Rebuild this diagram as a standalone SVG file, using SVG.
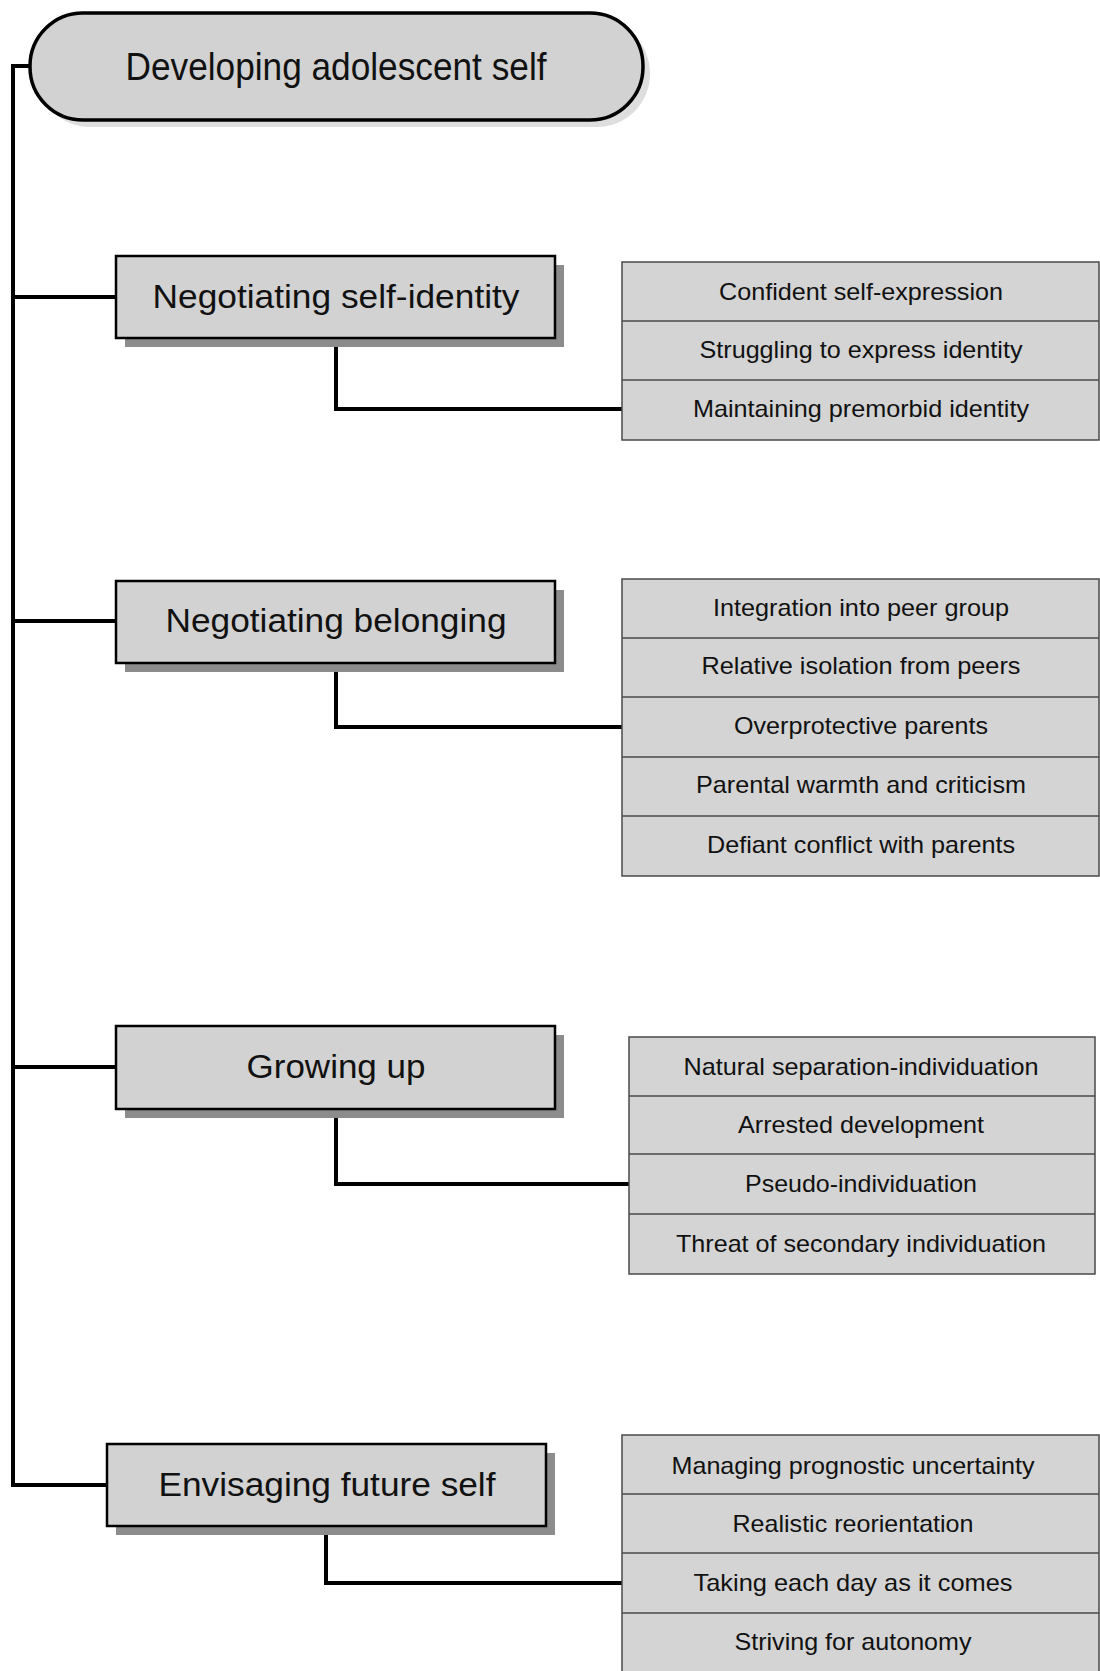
<svg xmlns="http://www.w3.org/2000/svg" width="1100" height="1671" viewBox="0 0 1100 1671">
<style>
.bg{fill:#ffffff}
.conn{fill:none;stroke:#000;stroke-width:4;stroke-linejoin:miter;stroke-linecap:square}
.shadow{fill:#8c8c8c}
.pshadow{fill:#dedede}
.box{fill:#d2d2d2;stroke:#000;stroke-width:2.5}
.pill{fill:#d2d2d2;stroke:#000;stroke-width:3.5}
.list{fill:#d4d4d4;stroke:#4a4a4a;stroke-width:1.5}
.div{stroke:#4a4a4a;stroke-width:1.5}
.t1{font-family:"Liberation Sans",Arial,sans-serif;font-size:34px;fill:#111;text-anchor:middle;dominant-baseline:central}
.t0{font-family:"Liberation Sans",Arial,sans-serif;font-size:39px;fill:#111;text-anchor:middle;dominant-baseline:central}
.t2{font-family:"Liberation Sans",Arial,sans-serif;font-size:24px;fill:#111;text-anchor:middle;dominant-baseline:central}
</style>
<rect class="bg" x="0" y="0" width="1100" height="1671"/>

<g id="connectors">
<path class="conn" d="M30,66 H13 V1485 H107"/>
<path class="conn" d="M13,297 H116"/>
<path class="conn" d="M13,621 H116"/>
<path class="conn" d="M13,1067 H116"/>
<path class="conn" d="M336,338 V409 H622"/>
<path class="conn" d="M336,663 V727 H622"/>
<path class="conn" d="M336,1109 V1184 H629"/>
<path class="conn" d="M326,1526 V1583 H622"/>
</g>

<g id="root">
<rect class="pshadow" x="37" y="20" width="613" height="107" rx="53"/>
<rect class="pill" x="30" y="13" width="613" height="107" rx="53"/>
<text class="t0" x="336" y="66" textLength="421" lengthAdjust="spacingAndGlyphs">Developing adolescent self</text>
</g>

<g id="n1">
<rect class="shadow" x="125" y="265" width="439" height="82"/>
<rect class="box" x="116" y="256" width="439" height="82"/>
<text class="t1" x="336" y="296" textLength="367" lengthAdjust="spacingAndGlyphs">Negotiating self-identity</text>
</g>
<g id="n1-list">
<rect class="list" x="622" y="262" width="477" height="178"/>
<line class="div" x1="622" y1="321" x2="1099" y2="321"/>
<line class="div" x1="622" y1="380" x2="1099" y2="380"/>
<text class="t2" x="861" y="291" textLength="284" lengthAdjust="spacingAndGlyphs">Confident self-expression</text>
<text class="t2" x="861" y="349" textLength="323" lengthAdjust="spacingAndGlyphs">Struggling to express identity</text>
<text class="t2" x="861" y="408" textLength="336" lengthAdjust="spacingAndGlyphs">Maintaining premorbid identity</text>
</g>

<g id="n2">
<rect class="shadow" x="125" y="590" width="439" height="82"/>
<rect class="box" x="116" y="581" width="439" height="82"/>
<text class="t1" x="336" y="620" textLength="341" lengthAdjust="spacingAndGlyphs">Negotiating belonging</text>
</g>
<g id="n2-list">
<rect class="list" x="622" y="579" width="477" height="297"/>
<line class="div" x1="622" y1="638" x2="1099" y2="638"/>
<line class="div" x1="622" y1="697" x2="1099" y2="697"/>
<line class="div" x1="622" y1="757" x2="1099" y2="757"/>
<line class="div" x1="622" y1="816" x2="1099" y2="816"/>
<text class="t2" x="861" y="607" textLength="296" lengthAdjust="spacingAndGlyphs">Integration into peer group</text>
<text class="t2" x="861" y="665" textLength="319" lengthAdjust="spacingAndGlyphs">Relative isolation from peers</text>
<text class="t2" x="861" y="725" textLength="254" lengthAdjust="spacingAndGlyphs">Overprotective parents</text>
<text class="t2" x="861" y="784" textLength="330" lengthAdjust="spacingAndGlyphs">Parental warmth and criticism</text>
<text class="t2" x="861" y="844" textLength="308" lengthAdjust="spacingAndGlyphs">Defiant conflict with parents</text>
</g>

<g id="n3">
<rect class="shadow" x="125" y="1035" width="439" height="83"/>
<rect class="box" x="116" y="1026" width="439" height="83"/>
<text class="t1" x="336" y="1066" textLength="179" lengthAdjust="spacingAndGlyphs">Growing up</text>
</g>
<g id="n3-list">
<rect class="list" x="629" y="1037" width="466" height="237"/>
<line class="div" x1="629" y1="1096" x2="1095" y2="1096"/>
<line class="div" x1="629" y1="1154" x2="1095" y2="1154"/>
<line class="div" x1="629" y1="1214" x2="1095" y2="1214"/>
<text class="t2" x="861" y="1066" textLength="355" lengthAdjust="spacingAndGlyphs">Natural separation-individuation</text>
<text class="t2" x="861" y="1124" textLength="246" lengthAdjust="spacingAndGlyphs">Arrested development</text>
<text class="t2" x="861" y="1183" textLength="232" lengthAdjust="spacingAndGlyphs">Pseudo-individuation</text>
<text class="t2" x="861" y="1243" textLength="370" lengthAdjust="spacingAndGlyphs">Threat of secondary individuation</text>
</g>

<g id="n4">
<rect class="shadow" x="116" y="1453" width="439" height="82"/>
<rect class="box" x="107" y="1444" width="439" height="82"/>
<text class="t1" x="327" y="1484" textLength="337" lengthAdjust="spacingAndGlyphs">Envisaging future self</text>
</g>
<g id="n4-list">
<rect class="list" x="622" y="1435" width="477" height="240"/>
<line class="div" x1="622" y1="1494" x2="1099" y2="1494"/>
<line class="div" x1="622" y1="1553" x2="1099" y2="1553"/>
<line class="div" x1="622" y1="1613" x2="1099" y2="1613"/>
<text class="t2" x="853" y="1465" textLength="363" lengthAdjust="spacingAndGlyphs">Managing prognostic uncertainty</text>
<text class="t2" x="853" y="1523" textLength="241" lengthAdjust="spacingAndGlyphs">Realistic reorientation</text>
<text class="t2" x="853" y="1582" textLength="319" lengthAdjust="spacingAndGlyphs">Taking each day as it comes</text>
<text class="t2" x="853" y="1641" textLength="237" lengthAdjust="spacingAndGlyphs">Striving for autonomy</text>
</g>
</svg>
